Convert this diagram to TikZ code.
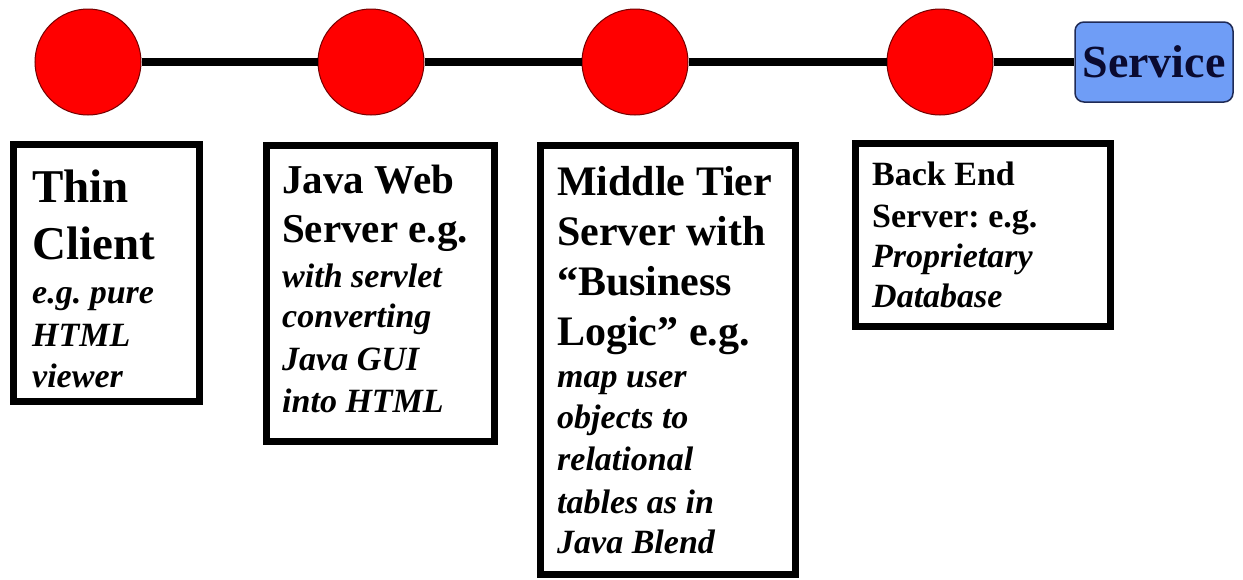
\documentclass[tikz,border=0pt]{standalone}
\usepackage{fontspec}
\setmainfont{Liberation Serif}
\frenchspacing
\begin{document}
\begin{tikzpicture}[x=1pt,y=-1pt,
  dot/.style={circle,fill=red,draw=red!45!black,line width=1pt,minimum size=106pt,inner sep=0pt},
  wire/.style={line width=7.5pt,black},
  svcbox/.style={rectangle,rounded corners=9pt,fill=svcblue,draw=svcedge,line width=1.5pt,
     minimum width=158pt,minimum height=80pt,inner sep=0pt,text=svctext,
     font=\bfseries\fontsize{46}{50}\selectfont},
  framebox/.style={rectangle,draw=black,line width=7pt,inner sep=0pt},
  big/.style={anchor=base west,inner sep=0pt,font=\bfseries\fontsize{47}{50}\selectfont},
  mid/.style={anchor=base west,inner sep=0pt,font=\bfseries\fontsize{42}{46}\selectfont},
  sml/.style={anchor=base west,inner sep=0pt,font=\bfseries\fontsize{34}{38}\selectfont},
  ital/.style={anchor=base west,inner sep=0pt,font=\bfseries\itshape\fontsize{34}{38}\selectfont}
]
\definecolor{svcblue}{HTML}{6F9DF6}
\definecolor{svcedge}{HTML}{1F2A55}
\definecolor{svctext}{HTML}{0A0A30}
\useasboundingbox (0,0) rectangle (1243,579);
\fill[white] (0,0) rectangle (1243,579);

% top row
\node[dot] (c1) at (88,62) {};
\node[dot] (c2) at (371,62) {};
\node[dot] (c3) at (635,62) {};
\node[dot] (c4) at (940,62) {};
\node[svcbox] (svc) at (1154,62) {Service};
\draw[wire] (c1) -- (c2);
\draw[wire] (c2) -- (c3);
\draw[wire] (c3) -- (c4);
\draw[wire] (c4) -- (svc);

% boxes
\node[framebox,minimum width=186pt,minimum height=257pt] (b1) at (106.5,273) {};
\node[framebox,minimum width=228pt,minimum height=296pt] (b2) at (380.5,293.5) {};
\node[framebox,minimum width=255pt,minimum height=429pt] (b3) at (668,360) {};
\node[framebox,minimum width=255pt,minimum height=183pt] (b4) at (983,235) {};

% box 1 text
\node[big] (t11) at (32,202) {Thin};
\node[big] (t12) at (32,259) {Client};
\node[ital] (t13) at (32,303) {e.g. pure};
\node[ital] (t14) at (32,346) {HTML};
\node[ital] (t15) at (32,387) {viewer};

% box 2 text
\node[mid,font=\bfseries\fontsize{41}{45}\selectfont] (t21) at (282,193) {Java Web};
\node[mid,font=\bfseries\fontsize{41}{45}\selectfont] (t22) at (282,242) {Server e.g.};
\node[ital] (t23) at (282,287) {with servlet};
\node[ital] (t24) at (282,327) {converting};
\node[ital] (t25) at (282,370) {Java GUI};
\node[ital] (t26) at (282,412) {into HTML};

% box 3 text
\node[mid] (t31) at (557,195) {Middle Tier};
\node[mid] (t32) at (557,245) {Server with};
\node[mid] (t33) at (557,295) {“Business};
\node[mid] (t34) at (557,345) {Logic” e.g.};
\node[ital] (t35) at (557,387) {map user};
\node[ital] (t36) at (557,428) {objects to};
\node[ital] (t37) at (557,470) {relational};
\node[ital] (t38) at (557,513) {tables as in};
\node[ital] (t39) at (557,553) {Java Blend};

% box 4 text
\node[sml] (t41) at (872,185) {Back End};
\node[sml] (t42) at (872,227) {Server: e.g.};
\node[ital] (t43) at (872,267) {Proprietary};
\node[ital] (t44) at (872,307) {Database};
\end{tikzpicture}
\end{document}
